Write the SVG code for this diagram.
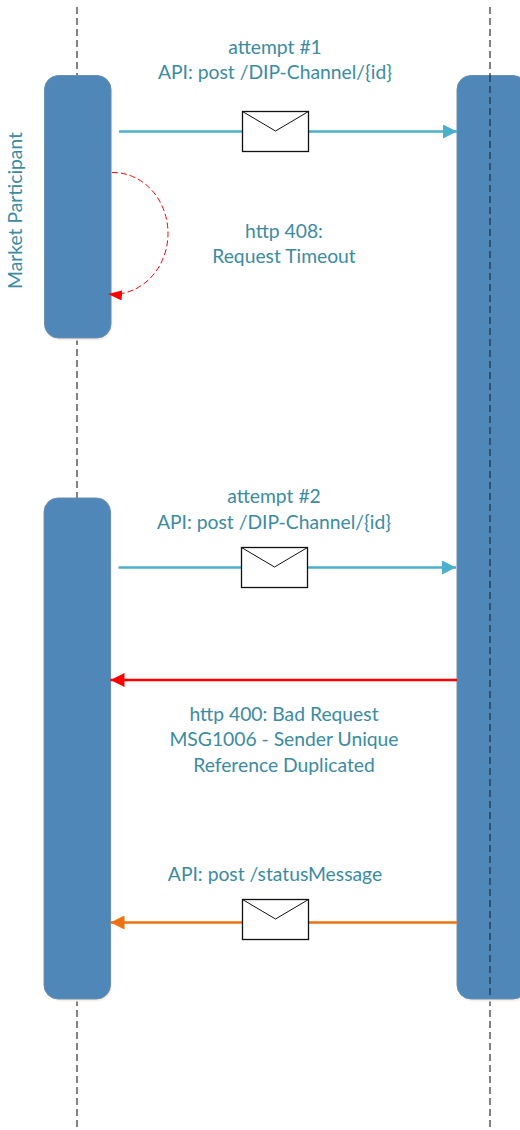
<svg xmlns="http://www.w3.org/2000/svg" width="520" height="1130" viewBox="0 0 520 1130">
<style>
.t{font-family:Lato,"Open Sans",sans-serif;font-size:19.3px;fill:#3b8ba3;text-anchor:middle}
.box{fill:#4f87b9;stroke:#6a8fb0;stroke-width:1}
.sh{fill:#f8efe6}
.life{fill:none;stroke:#5a5a5a;stroke-width:1.500;stroke-dasharray:7 4}
.lifeb{fill:none;stroke:#24405c;stroke-width:1.500;stroke-dasharray:7 4}
.env{fill:#fff;stroke:#111;stroke-width:1.300}
.flap{fill:none;stroke:#111;stroke-width:1}
</style>
<defs>
<marker id="ab" markerUnits="userSpaceOnUse" markerWidth="14" markerHeight="14" refX="14" refY="7" orient="auto"><path d="M0 0L14 7L0 14Z" fill="#4bb0cb"/></marker>
<marker id="ar" markerUnits="userSpaceOnUse" markerWidth="14" markerHeight="14" refX="14" refY="7" orient="auto"><path d="M0 0L14 7L0 14Z" fill="#ff0000"/></marker>
<marker id="ao" markerUnits="userSpaceOnUse" markerWidth="14" markerHeight="14" refX="14" refY="7" orient="auto"><path d="M0 0L14 7L0 14Z" fill="#ed7011"/></marker>
<marker id="as" markerUnits="userSpaceOnUse" markerWidth="14" markerHeight="10" refX="14" refY="5" orient="auto"><path d="M0 0L14 5L0 10Z" fill="#ff0000"/></marker>
</defs>
<g id="lifelines">
<path class="life" d="M77 7V75M77 338V498M77 999V1128"/>
<path class="life" d="M490 7V75M490 999V1128"/>
</g>
<g id="mp-activation-1"><rect class="sh" x="46" y="77.500" width="66.500" height="263" rx="15"/><rect class="box" x="44.500" y="75.500" width="66.500" height="262.500" rx="14"/></g>
<g id="mp-activation-2"><rect class="sh" x="46" y="500.500" width="66" height="501" rx="15"/><rect class="box" x="44" y="498" width="66.500" height="501" rx="14"/></g>
<g id="server-activation"><rect class="sh" x="459" y="77.500" width="70" height="924" rx="15"/><rect class="box" x="457" y="75.500" width="70" height="923.500" rx="14"/><path class="lifeb" d="M490 75V999"/></g>
<g id="connectors">
<path d="M119 131.500H457" fill="none" stroke="#4bb0cb" stroke-width="2.600" marker-end="url(#ab)"/>
<path d="M118.500 567.500H456" fill="none" stroke="#4bb0cb" stroke-width="2.600" marker-end="url(#ab)"/>
<path d="M457 680H110.500" fill="none" stroke="#ff0000" stroke-width="2.600" marker-end="url(#ar)"/>
<path d="M458 922.500H110.500" fill="none" stroke="#ed7011" stroke-width="2.600" marker-end="url(#ao)"/>
<path d="M112 172.500A55 61 0 0 1 168 232A55 61 0 0 1 108 294" fill="none" stroke="#ff0000" stroke-width="1" stroke-dasharray="6 3" marker-end="url(#as)"/>
</g>
<g id="envelope-1"><rect class="env" x="242.500" y="111.500" width="66" height="40"/><path class="flap" d="M242.500 111.500L275.500 131L308.500 111.500"/></g>
<g id="envelope-2"><rect class="env" x="241.500" y="547.500" width="66" height="40"/><path class="flap" d="M241.500 547.500L274.500 567L307.500 547.500"/></g>
<g id="envelope-3"><rect class="env" x="242.500" y="899.500" width="66" height="40"/><path class="flap" d="M242.500 899.500L275.500 919L308.500 899.500"/></g>
<g id="labels">
<text class="t" x="275" y="54">attempt #1</text>
<text class="t" x="275" y="79">API: post /DIP-Channel/{id}</text>
<text class="t" x="284" y="238">http 408:</text>
<text class="t" x="284" y="263">Request Timeout</text>
<text class="t" x="274" y="503">attempt #2</text>
<text class="t" x="274" y="529">API: post /DIP-Channel/{id}</text>
<text class="t" x="284" y="721">http 400: Bad Request</text>
<text class="t" x="284" y="746">MSG1006 - Sender Unique</text>
<text class="t" x="284" y="772">Reference Duplicated</text>
<text class="t" x="275" y="881">API: post /statusMessage</text>
<text class="t" transform="translate(22 210.500) rotate(-90)">Market Participant</text>
</g>
</svg>
